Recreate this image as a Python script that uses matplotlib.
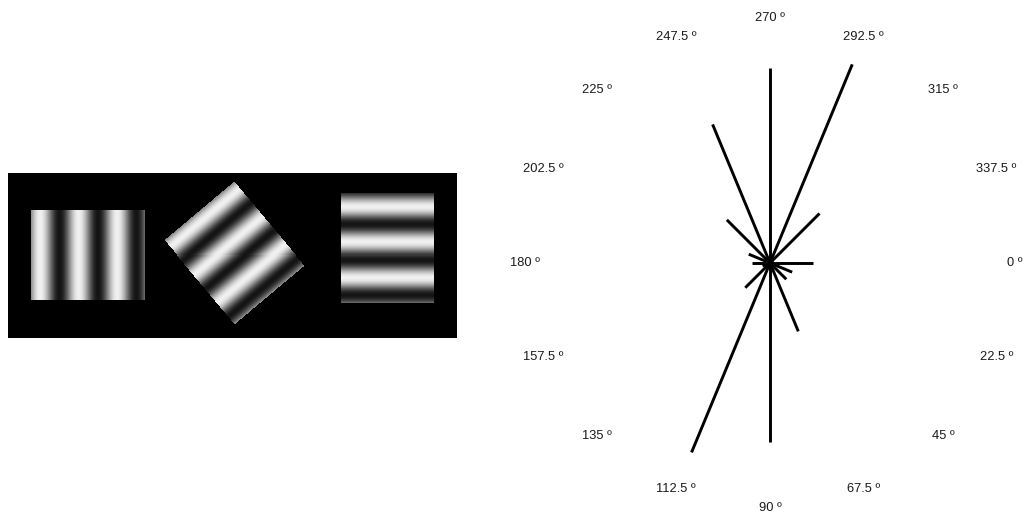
import numpy as np
import matplotlib
matplotlib.use("Agg")
import matplotlib.pyplot as plt

plt.rcParams['font.family'] = ['Liberation Sans', 'DejaVu Sans']

# Gratings shown in the left panel (pixel units of the stimulus image)
STIM_W, STIM_H = 449, 165
GRATING_CX = [79.7, 226.5, 379.2]
GRATING_CY = [82.2, 80.4, 75.2]
GRATING_LEN = [114, 108.8, 109]       # extent along the modulation direction
GRATING_WID = [89, 91, 93]            # extent along the stripes
GRATING_ANGLE = [0, 50, 90]           # direction of modulation, degrees
GRATING_PERIOD = [38.5, 36, 35]
GRATING_PEAK = [9.5, 9, 14]           # first bright band, from the leading edge

# Orientation response, one value per 22.5 degree bin
BIN_ANGLES = np.arange(0, 360, 22.5)
RESPONSE = [43, 24, 23, 74, 179, 205, 35, 8,
            18, 23, 61, 150, 195, 215, 70, 4]
LABEL_R = 245
ANGLE_LABELS = [f"{a:g} º" for a in BIN_ANGLES]


def make_stimulus():
    yy, xx = np.mgrid[0:STIM_H, 0:STIM_W] + 0.5
    img = np.zeros((STIM_H, STIM_W))
    for cx, cy, L, W, ang, per, pk in zip(GRATING_CX, GRATING_CY, GRATING_LEN,
                                          GRATING_WID, GRATING_ANGLE,
                                          GRATING_PERIOD, GRATING_PEAK):
        a = np.deg2rad(ang)
        ux, uy = np.cos(a), np.sin(a)
        s = (xx - cx) * ux + (yy - cy) * uy
        t = -(xx - cx) * uy + (yy - cy) * ux
        mask = (np.abs(s) <= L / 2) & (np.abs(t) <= W / 2)
        g = np.cos(2 * np.pi * (s + L / 2 - pk) / per)
        img[mask] = 0.08 + 0.86 * (g[mask] + 1) / 2
    return img


fig = plt.figure(figsize=(10.31, 5.16), dpi=100)

# ── Left: stimulus image ──
ax_img = fig.add_axes([8.3 / 1031, (516 - 338.5) / 516, STIM_W / 1031, STIM_H / 516])
ax_img.imshow(make_stimulus(), cmap='gray', vmin=0, vmax=1,
              interpolation='nearest', aspect='auto')
ax_img.axis('off')

# ── Right: polar orientation plot ──
cx, cy = 770, 516 - 263
ax = fig.add_axes([(cx - LABEL_R) / 1031, (cy - LABEL_R) / 516,
                   2 * LABEL_R / 1031, 2 * LABEL_R / 516], projection='polar')
ax.set_theta_zero_location('E')
ax.set_theta_direction(-1)
ax.set_ylim(0, LABEL_R)

for ang, r in zip(BIN_ANGLES, RESPONSE):
    th = np.deg2rad(ang)
    ax.plot([th, th], [0, r], color='black', lw=2.1, solid_capstyle='butt')

for ang, lab in zip(BIN_ANGLES, ANGLE_LABELS):
    ax.text(np.deg2rad(ang), LABEL_R, lab, ha='center', va='center',
            fontsize=9.3, color='#1a1a1a', clip_on=False)

ax.grid(False)
ax.set_xticks([])
ax.set_yticks([])
ax.spines['polar'].set_visible(False)
ax.patch.set_visible(False)

fig.savefig('out.png', dpi=100)
